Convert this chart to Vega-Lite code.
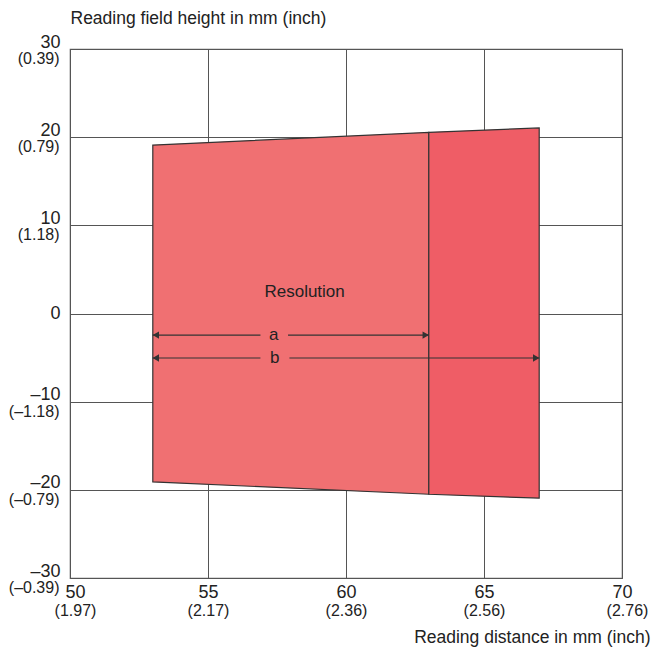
{
  "$schema": "https://vega.github.io/schema/vega-lite/v6.json",
  "width": 552,
  "height": 529,
  "autosize": {"type": "none"},
  "padding": {"left": 70, "top": 49, "right": 29, "bottom": 69},
  "background": "white",
  "config": {
    "font": "Liberation Sans",
    "view": {"stroke": "#666", "strokeWidth": 1.2},
    "axis": {
      "domain": false,
      "ticks": false,
      "gridColor": "#555",
      "gridWidth": 1,
      "labelFont": "Liberation Sans",
      "labelColor": "#222",
      "labelOverlap": false,
      "labelFlush": false,
      "labelBound": false,
      "titleFont": "Liberation Sans",
      "titleFontSize": 17.5,
      "titleFontWeight": "normal",
      "titleColor": "#222"
    }
  },
  "resolve": {"axis": {"x": "independent", "y": "independent"}},
  "datasets": {
    "field": [
      {"zone": "a", "dist": 53, "top": 19.1, "bottom": -19.1},
      {"zone": "a", "dist": 63, "top": 20.55, "bottom": -20.5},
      {"zone": "b", "dist": 63, "top": 20.55, "bottom": -20.5},
      {"zone": "b", "dist": 67, "top": 21.05, "bottom": -20.95}
    ],
    "arrows": [
      {"name": "a", "from": 53, "to": 56.9, "h": -2.45},
      {"name": "a", "from": 57.9, "to": 63, "h": -2.45},
      {"name": "b", "from": 53, "to": 56.9, "h": -5.05},
      {"name": "b", "from": 57.95, "to": 67, "h": -5.05}
    ],
    "heads": [
      {"dir": "left", "pos": 53, "h": -2.45},
      {"dir": "right", "pos": 63, "h": -2.45},
      {"dir": "left", "pos": 53, "h": -5.05},
      {"dir": "right", "pos": 67, "h": -5.05}
    ],
    "labels": [
      {"text": "Resolution", "pos": 58.5, "h": 2.4},
      {"text": "a", "pos": 57.38, "h": -2.45},
      {"text": "b", "pos": 57.42, "h": -5.05}
    ]
  },
  "layer": [
    {
      "data": {"name": "field"},
      "mark": {"type": "area", "stroke": "#333", "strokeWidth": 1.2, "opacity": 1, "fillOpacity": 1},
      "encoding": {
        "x": {
          "field": "dist", "type": "quantitative",
          "scale": {"domain": [50, 70], "nice": false, "zero": false},
          "axis": {
            "orient": "bottom",
            "grid": true,
            "values": [50, 55, 60, 65, 70],
            "labelFontSize": 18,
            "labelPadding": 14,
            "labelBaseline": "middle",
            "labelOffset": {"condition": {"test": "datum.value == 50", "value": 5}, "value": 0},
            "labelExpr": "datum.value == 50 ? '50' : datum.value == 55 ? '55' : datum.value == 60 ? '60' : datum.value == 65 ? '65' : '70'",
            "title": "Reading distance in mm (inch)",
            "titleAnchor": null,
            "titleAlign": "right",
            "titleBaseline": "middle",
            "titleX": 580,
            "titleY": 59
          }
        },
        "y": {
          "field": "top", "type": "quantitative", "stack": null,
          "scale": {"domain": [-30, 30], "nice": false, "zero": false},
          "axis": {
            "orient": "left",
            "grid": true,
            "values": [-30, -20, -10, 0, 10, 20, 30],
            "labelFontSize": 18,
            "labelPadding": 10,
            "labelBaseline": "middle",
            "labelOffset": {"condition": {"test": "datum.value == 0", "value": 0}, "value": -7},
            "labelExpr": "datum.value == 30 ? '30' : datum.value == 20 ? '20' : datum.value == 10 ? '10' : datum.value == 0 ? '0' : datum.value == -10 ? '–10' : datum.value == -20 ? '–20' : '–30'",
            "title": "Reading field height in mm (inch)",
            "titleAngle": 0,
            "titleAlign": "left",
            "titleBaseline": "middle",
            "titleX": 0,
            "titleY": -31
          }
        },
        "y2": {"field": "bottom"},
        "color": {
          "field": "zone", "type": "nominal",
          "scale": {"domain": ["a", "b"], "range": ["#f07072", "#ef5d66"]},
          "legend": null
        }
      }
    },
    {
      "data": {"name": "arrows"},
      "mark": {"type": "rule", "color": "#333", "strokeWidth": 1.2},
      "encoding": {
        "x": {
          "field": "from", "type": "quantitative",
          "axis": {
            "orient": "bottom",
            "grid": false,
            "values": [50, 55, 60, 65, 70],
            "labelFontSize": 16,
            "labelPadding": 32,
            "labelBaseline": "middle",
            "labelOffset": {"condition": {"test": "datum.value == 50 || datum.value == 70", "value": 5}, "value": 0},
            "labelExpr": "datum.value == 50 ? '(1.97)' : datum.value == 55 ? '(2.17)' : datum.value == 60 ? '(2.36)' : datum.value == 65 ? '(2.56)' : '(2.76)'",
            "title": null
          }
        },
        "x2": {"field": "to"},
        "y": {
          "field": "h", "type": "quantitative",
          "axis": {
            "orient": "left",
            "grid": false,
            "values": [-30, -20, -10, 10, 20, 30],
            "labelFontSize": 16,
            "labelPadding": 11,
            "labelBaseline": "middle",
            "labelOffset": 9.5,
            "labelExpr": "datum.value == 30 ? '(0.39)' : datum.value == 20 ? '(0.79)' : datum.value == 10 ? '(1.18)' : datum.value == -10 ? '(–1.18)' : datum.value == -20 ? '(–0.79)' : '(–0.39)'",
            "title": null
          }
        }
      }
    },
    {
      "data": {"name": "heads"},
      "transform": [{"filter": "datum.dir == 'left'"}],
      "mark": {"type": "point", "filled": true, "color": "#333", "opacity": 1, "size": 55, "shape": "triangle-left", "xOffset": 3},
      "encoding": {
        "x": {"field": "pos", "type": "quantitative", "axis": null},
        "y": {"field": "h", "type": "quantitative", "axis": null}
      }
    },
    {
      "data": {"name": "heads"},
      "transform": [{"filter": "datum.dir == 'right'"}],
      "mark": {"type": "point", "filled": true, "color": "#333", "opacity": 1, "size": 55, "shape": "triangle-right", "xOffset": -3},
      "encoding": {
        "x": {"field": "pos", "type": "quantitative", "axis": null},
        "y": {"field": "h", "type": "quantitative", "axis": null}
      }
    },
    {
      "data": {"name": "labels"},
      "mark": {"type": "text", "fontSize": 17, "color": "#222", "font": "Liberation Sans", "baseline": "middle", "align": "center"},
      "encoding": {
        "x": {"field": "pos", "type": "quantitative", "axis": null},
        "y": {"field": "h", "type": "quantitative", "axis": null},
        "text": {"field": "text"}
      }
    }
  ]
}
